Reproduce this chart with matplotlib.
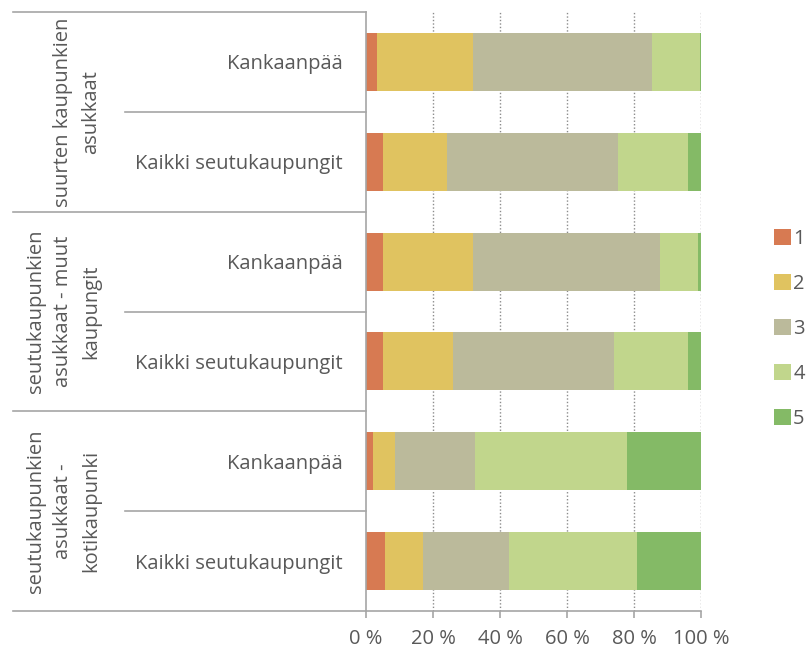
import matplotlib
matplotlib.use("Agg")
import matplotlib.pyplot as plt
from matplotlib.transforms import blended_transform_factory
import numpy as np

plt.rcParams['font.family'] = ['Open Sans', 'DejaVu Sans']

# data (percent shares)
ryhmat = ["suurten kaupunkien\nasukkaat",
          "seutukaupunkien\nasukkaat - muut\nkaupungit",
          "seutukaupunkien\nasukkaat -\nkotikaupunki"]
alueet = ["Kankaanpää", "Kaikki seutukaupungit"] * 3
luokat = ["1", "2", "3", "4", "5"]
s1 = [3.2, 5.0, 5.0, 5.0, 2.0, 5.6]
s2 = [28.7, 19.2, 26.9, 21.0, 6.7, 11.4]
s3 = [53.4, 50.9, 55.8, 47.9, 23.9, 25.7]
s4 = [14.3, 21.0, 11.3, 22.2, 45.4, 38.3]
s5 = [0.4, 3.9, 1.0, 3.9, 22.0, 19.0]
varit = ["#D77A52", "#E0C360", "#BBBA9B", "#C1D68C", "#84BA66"]

harmaa = "#595959"
viiva = "#A6A6A6"
fs = 14.5

fig = plt.figure(figsize=(8.08, 6.51), dpi=100)
ax = fig.add_axes([366/808, 1 - 611/651, 335/808, 599/651])

y = np.arange(len(alueet))
vasen = np.zeros(len(alueet))
for sarja, vari, nimi in zip([s1, s2, s3, s4, s5], varit, luokat):
    ax.barh(y, sarja, left=vasen, height=0.58, color=vari, label=nimi)
    vasen = vasen + np.array(sarja)

ax.set_xlim(0, 100)
ax.set_ylim(5.5, -0.5)
ax.set_xticks([0, 20, 40, 60, 80, 100])
ax.set_xticklabels(["0 %", "20 %", "40 %", "60 %", "80 %", "100 %"])
ax.tick_params(axis='x', colors=viiva, labelcolor=harmaa, labelsize=fs,
               length=5, width=1.2, direction='out', pad=8)
ax.set_yticks(y)
ax.set_yticklabels(alueet)
ax.tick_params(axis='y', length=0, labelsize=fs, labelcolor=harmaa, pad=17)

for xv in [20, 40, 60, 80, 100]:
    ax.axvline(xv, color="#8C8C8C", linestyle=(0, (1, 1.5)), linewidth=1, zorder=0)
ax.set_axisbelow(True)

for k in ['top', 'right']:
    ax.spines[k].set_visible(False)
for k in ['left', 'bottom']:
    ax.spines[k].set_color(viiva)
    ax.spines[k].set_linewidth(1.2)

# multi-level category axis lines
tr = blended_transform_factory(fig.transFigure, ax.transData)
x0 = 13/808
x1 = 125/808
x2 = 366/808
for yy in [-0.5, 1.5, 3.5, 5.5]:
    ax.plot([x0, x2], [yy, yy], transform=tr, color=viiva, lw=1.2, clip_on=False)
for yy in [0.5, 2.5, 4.5]:
    ax.plot([x1, x2], [yy, yy], transform=tr, color=viiva, lw=1.2, clip_on=False)

for i, teksti in enumerate(ryhmat):
    ax.text(101/808, 2*i + 0.5, teksti, transform=tr, rotation=90,
            ha='right', va='center', multialignment='center',
            fontsize=fs, color=harmaa, linespacing=1.5)

leg = fig.legend(loc='center left', bbox_to_anchor=(764/808, 1 - 329/651),
                 frameon=False, fontsize=fs, handlelength=0.85, handleheight=0.85,
                 handletextpad=0.1, labelspacing=1.25, labelcolor=harmaa,
                 borderpad=0)

fig.savefig("out.png", dpi=100)
